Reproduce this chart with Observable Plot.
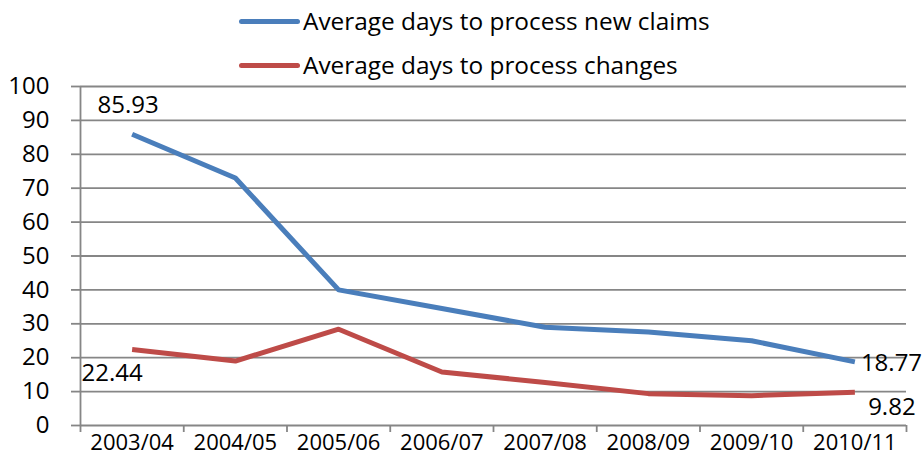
<!DOCTYPE html>
<html><head><meta charset="utf-8">
<script src="https://cdn.jsdelivr.net/npm/d3@7"></script>
<script src="https://cdn.jsdelivr.net/npm/@observablehq/plot@0.6"></script>
<style>
body{margin:0;background:#fff;font-family:"Open Sans",sans-serif;}
#legend{height:56px;position:relative;width:924px;}
.item{position:absolute;left:239px;display:flex;align-items:center;font-size:24.4px;line-height:30px;color:#000;white-space:nowrap}
.sw{width:61px;height:5px;border-radius:3px;margin-right:3px}
#chart svg{overflow:visible}
</style></head><body>
<div id="legend"></div><div id="chart"></div>
<script>
const years = ["2003/04","2004/05","2005/06","2006/07","2007/08","2008/09","2009/10","2010/11"];
const newClaims = [85.93, 73.0, 40.0, 34.5, 29.0, 27.6, 25.0, 18.77];
const changes = [22.44, 19.0, 28.4, 15.8, 12.7, 9.4, 8.8, 9.82];
const seriesNames = ["Average days to process new claims", "Average days to process changes"];
const seriesColors = ["#4a7ebb", "#be4b48"];
const yTicks = [0,10,20,30,40,50,60,70,80,90,100];

// legend
const legend = document.getElementById("legend");
seriesNames.forEach((n,i)=>{
  const d = document.createElement("div");
  d.className="item"; d.style.top = (i===0?6:50)+"px";
  d.innerHTML = `<span class="sw" style="background:${seriesColors[i]}"></span><span>${n}</span>`;
  legend.appendChild(d);
});

const rows = [];
[newClaims, changes].forEach((vals, s) => vals.forEach((v, i) => rows.push({series: seriesNames[s], i, year: years[i], value: v})));
const pos = d => d.i + 0.5;
const bounds = d3.range(years.length + 1);
const centers = years.map((y,i)=>i+0.5);

const labelRows = [
  {...rows[0], dx:-4, dy:-29, anchor:"middle"},
  {...rows[years.length], dx:-20, dy:24, anchor:"middle"},
  {...rows[years.length-1], dx:6, dy:1, anchor:"start"},
  {...rows[2*years.length-1], dx:37, dy:15, anchor:"middle"}
];

const grey = "#868686";
const chart = Plot.plot({
  width: 924, height: 407,
  marginTop: 30, marginBottom: 38, marginLeft: 80, marginRight: 18,
  style: {fontFamily: '"Open Sans", sans-serif', background: "transparent", color: "#000"},
  x: {type: "linear", domain: [0, years.length]},
  y: {domain: [0, 100]},
  color: {domain: seriesNames, range: seriesColors},
  marks: [
    Plot.ruleY(yTicks, {x1: 0, x2: years.length, stroke: grey, strokeWidth: 1.8}),
    Plot.ruleX([0], {y1: 0, y2: 100, stroke: grey, strokeWidth: 1.8}),
    Plot.axisY({ticks: yTicks, tickSize: 9, tickPadding: 22, fontSize: 24, stroke: grey, strokeWidth: 1.8, strokeOpacity: 1, label: null, fill: "#000"}),
    Plot.axisX({ticks: bounds, tickSize: 7, tickFormat: () => "", stroke: grey, strokeWidth: 1.8, strokeOpacity: 1, label: null}),
    Plot.axisX({ticks: centers, tickSize: 0, tickPadding: 9, tickFormat: d => years[Math.round(d - 0.5)], fontSize: 22, label: null, fill: "#000"}),
    Plot.line(rows, {x: pos, y: "value", z: "series", stroke: "series", strokeWidth: 5, strokeLinejoin: "round", strokeLinecap: "butt"}),
    ...labelRows.map(r => Plot.text([r], {x: pos, y: "value", text: d => d.value.toFixed(2), dx: r.dx, dy: r.dy, textAnchor: r.anchor, fontSize: 24, fill: "#000"}))
  ]
});
document.getElementById("chart").appendChild(chart);
</script>
</body></html>
